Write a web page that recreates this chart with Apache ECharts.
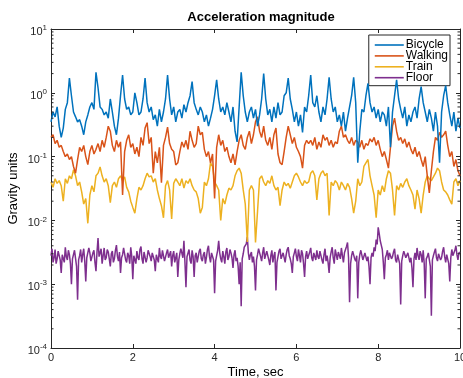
<!DOCTYPE html>
<html>
<head>
<meta charset="utf-8">
<script src="https://cdn.jsdelivr.net/npm/echarts@6/dist/echarts.min.js"></script>
<style>
  html, body { margin: 0; padding: 0; background: #fff; }
  #chart { width: 463px; height: 378px; }
</style>
</head>
<body>
<div id="chart"></div>
<script>
// sample spacing, seconds
const dt = 0.05;
const dtFloor = 0.025;
const seriesNames = ["Bicycle", "Walking", "Train", "Floor"];
const xTicks = [0, 2, 4, 6, 8, 10];
const yExponents = [-4, -3, -2, -1, 0, 1];

const bicycle = [
  0.35, 0.5, 0.42, 0.6, 0.3, 0.2, 0.28, 0.55, 0.7, 1.7,
  0.9, 0.5, 0.42, 0.35, 0.38, 0.3, 0.22, 0.35, 0.45, 0.6, 0.7, 0.55,
  2.1, 1.2, 0.6, 0.55, 0.45, 0.5, 0.4, 0.8, 0.5, 0.3, 0.22, 0.4, 0.9,
  1.9, 0.8, 0.55, 0.6, 0.45, 0.5, 1.0, 0.7, 0.45, 0.5, 0.8,
  1.7, 0.7, 0.5, 0.6, 0.38, 0.45, 0.3, 0.55, 0.35, 0.5, 0.8,
  1.9, 0.8, 0.45, 0.6, 0.35, 0.5, 0.55, 0.4, 0.65, 0.5, 0.7, 0.9,
  1.5, 0.7, 0.55, 0.45, 0.6, 0.5, 0.35, 0.45, 0.3, 0.4, 0.55, 0.9,
  1.6, 0.8, 0.5, 0.6, 0.45, 0.7, 0.5, 0.35, 0.6, 0.25, 0.17, 0.6,
  2.1, 0.9, 0.5, 0.35, 0.5, 0.6, 0.4, 0.55, 0.3, 0.45, 0.8,
  2.0, 0.8, 0.45, 0.55, 0.35, 0.6, 0.4, 0.7, 0.45, 0.5, 0.9, 1.0,
  1.7, 0.8, 0.55, 0.35, 0.5, 0.3, 0.45, 0.24, 0.6, 0.5, 0.9,
  1.9, 0.7, 0.6, 0.9, 0.5, 0.35, 0.6, 0.45, 0.8,
  1.75, 0.8, 0.5, 0.6, 0.35, 0.45, 0.3, 0.5, 0.25, 0.4, 0.6, 0.9,
  1.75, 0.7, 0.08, 0.25, 0.55, 0.5, 0.9,
  1.4, 0.7, 0.5, 0.6, 0.4, 0.55, 0.35, 0.5, 0.45, 0.3, 0.6, 0.14, 0.5, 0.9,
  1.6, 0.8, 0.55, 0.4, 0.6, 0.3, 0.45, 0.35, 0.5, 0.6, 0.4, 0.8,
  1.25, 0.7, 0.5, 0.35, 0.55, 0.4, 0.25, 0.5, 0.3, 0.08, 0.5, 0.9,
  1.3, 0.7, 0.45, 0.3, 0.5, 0.25, 0.4, 0.28
];

const walking = [
  0.2, 0.22, 0.16, 0.18, 0.14, 0.15, 0.12, 0.1, 0.11, 0.09, 0.1,
  0.07, 0.055, 0.09, 0.14, 0.12, 0.15,
  0.1, 0.075, 0.12, 0.15, 0.11, 0.13,
  0.16, 0.12, 0.18, 0.14, 0.2, 0.3, 0.25, 0.15,
  0.12, 0.18, 0.14, 0.17, 0.025, 0.12, 0.18, 0.22, 0.14, 0.16,
  0.11, 0.14, 0.1, 0.2, 0.15, 0.28, 0.34, 0.16, 0.2, 0.055,
  0.12, 0.08, 0.14, 0.039, 0.15, 0.2,
  0.29, 0.16, 0.13, 0.12, 0.074,
  0.08, 0.12, 0.17, 0.14, 0.18, 0.13, 0.25, 0.18, 0.14,
  0.16, 0.3, 0.22, 0.24, 0.13, 0.1, 0.12, 0.08, 0.11,
  0.022,
  0.14, 0.22, 0.15, 0.18, 0.12, 0.14, 0.1, 0.08, 0.11, 0.074,
  0.12, 0.18, 0.22, 0.15, 0.13, 0.2, 0.25, 0.16, 0.22, 0.35,
  0.42, 0.25, 0.2, 0.3, 0.18, 0.15, 0.2, 0.13, 0.22, 0.28,
  0.11, 0.08, 0.075, 0.12, 0.2,
  0.3, 0.22, 0.16, 0.2, 0.14,
  0.12, 0.1, 0.066, 0.15, 0.18,
  0.16, 0.18, 0.15, 0.2, 0.13,
  0.17, 0.14, 0.22, 0.18, 0.2,
  0.15, 0.18, 0.14, 0.17, 0.16,
  0.25, 0.3, 0.2, 0.22, 0.18,
  0.16, 0.2, 0.15, 0.18, 0.17,
  0.14, 0.18, 0.13, 0.16, 0.15,
  0.19, 0.17, 0.2, 0.15, 0.18,
  0.13, 0.1, 0.12, 0.09, 0.066, 0.14,
  0.3, 0.4, 0.25, 0.18,
  0.2, 0.16, 0.19, 0.14, 0.17, 0.13,
  0.11, 0.14, 0.1, 0.12, 0.09,
  0.07, 0.1, 0.05, 0.027, 0.06,
  0.12, 0.2, 0.18, 0.24, 0.2, 0.22,
  0.25, 0.15, 0.1, 0.12, 0.07, 0.09, 0.06, 0.05
];

const train = [
  0.04, 0.033, 0.045, 0.038, 0.042, 0.035, 0.02, 0.045, 0.038, 0.05, 0.045,
  0.062, 0.05, 0.035, 0.04, 0.028, 0.018, 0.022, 0.009, 0.025, 0.035, 0.028,
  0.05, 0.055, 0.069, 0.05, 0.04, 0.045, 0.035, 0.019, 0.035, 0.04, 0.033,
  0.045, 0.05, 0.042, 0.048, 0.033, 0.028, 0.02, 0.016, 0.013,
  0.022, 0.033, 0.03, 0.035, 0.045, 0.055, 0.048, 0.05,
  0.04, 0.045, 0.03, 0.022, 0.017, 0.011, 0.035, 0.042, 0.03, 0.0105,
  0.038, 0.045, 0.04, 0.035, 0.045, 0.032, 0.042, 0.038, 0.045, 0.035,
  0.03, 0.028, 0.022, 0.013, 0.016, 0.04, 0.035, 0.045, 0.08, 0.07,
  0.04, 0.035, 0.03, 0.01, 0.022, 0.018, 0.025, 0.032, 0.03, 0.035,
  0.05, 0.06, 0.066, 0.055, 0.03, 0.018, 0.0046, 0.03, 0.035, 0.03,
  0.0045, 0.014, 0.045, 0.05, 0.04, 0.035, 0.042, 0.038, 0.05, 0.035,
  0.03, 0.033, 0.017, 0.03, 0.04, 0.035, 0.038, 0.032, 0.04, 0.05,
  0.055, 0.048, 0.04, 0.035, 0.042, 0.038, 0.04, 0.055, 0.06, 0.05,
  0.021, 0.045, 0.055, 0.06, 0.05, 0.055, 0.012, 0.04, 0.035, 0.042,
  0.038, 0.03, 0.04, 0.035, 0.03, 0.038, 0.033, 0.022, 0.013, 0.02,
  0.045, 0.035, 0.04, 0.07, 0.08, 0.09, 0.05, 0.035, 0.025, 0.011,
  0.03, 0.025, 0.035, 0.028, 0.045, 0.06, 0.055, 0.03, 0.012, 0.035,
  0.03, 0.038, 0.033, 0.04, 0.045, 0.035, 0.03, 0.025, 0.015, 0.03,
  0.022, 0.013, 0.025, 0.04, 0.05, 0.045, 0.042, 0.048, 0.055, 0.066,
  0.06, 0.04, 0.03, 0.028, 0.025, 0.021, 0.018, 0.04, 0.045, 0.035,
  0.042
];

const floor = [
  0.0028, 0.0036, 0.0022, 0.0026, 0.0035, 0.0021, 0.0025, 0.0033, 0.0031, 0.0024, 0.0015, 0.0029, 0.0027, 0.0022, 0.0038, 0.0027, 0.0024, 0.0034, 0.0029, 0.0021,
  0.001, 0.0025, 0.0026, 0.0034, 0.0033, 0.0019, 0.00057, 0.0024, 0.0028, 0.0035, 0.0022, 0.0029, 0.0036, 0.0023, 0.0011, 0.0026, 0.0027, 0.0037, 0.0031, 0.0023,
  0.0024, 0.0031, 0.0034, 0.0022, 0.0016, 0.0032, 0.0053, 0.0027, 0.0029, 0.0036, 0.0021, 0.0028, 0.0037, 0.0024, 0.0026, 0.0035, 0.0032, 0.0025, 0.0019, 0.003,
  0.0033, 0.0022, 0.0025, 0.0034, 0.0041, 0.0027, 0.0023, 0.0032, 0.0015, 0.0026, 0.0029, 0.0037, 0.0035, 0.0024, 0.0022, 0.0031, 0.0028, 0.0021, 0.0038, 0.0027,
  0.0012, 0.0028, 0.0027, 0.0021, 0.0033, 0.0026, 0.0024, 0.0035, 0.0039, 0.0025, 0.0021, 0.0032, 0.003, 0.0022, 0.0026, 0.0034, 0.0036, 0.0027, 0.0023, 0.0031,
  0.0031, 0.0024, 0.0016, 0.0029, 0.0028, 0.0022, 0.0037, 0.0027, 0.0025, 0.0034, 0.0032, 0.0023, 0.0022, 0.0031, 0.0035, 0.0026, 0.0027, 0.0033, 0.0019, 0.0028,
  0.0033, 0.0022, 0.0026, 0.0031, 0.0013, 0.0024, 0.003, 0.0036, 0.0038, 0.0026, 0.0048, 0.0022, 0.0009, 0.0027, 0.0029, 0.0035, 0.0024, 0.0021, 0.0034, 0.0027,
  0.0013, 0.0028, 0.0031, 0.0022, 0.0027, 0.0033, 0.0036, 0.0025, 0.0023, 0.0029, 0.0032, 0.0021, 0.0026, 0.0035, 0.004, 0.0027, 0.0022, 0.0031, 0.003, 0.0024,
  0.00072, 0.0023, 0.0028, 0.0034, 0.0048, 0.0031, 0.0025, 0.0022, 0.0033, 0.0027, 0.0021, 0.0032, 0.0037, 0.0024, 0.0027, 0.0035, 0.0031, 0.0026, 0.0018, 0.0029,
  0.0034, 0.0023, 0.0026, 0.0019, 0.001, 0.0022, 0.00045, 0.0025, 0.003, 0.0038, 0.0036, 0.0043, 0.0055, 0.0031, 0.0024, 0.0029, 0.0032, 0.0022, 0.0027, 0.0019,
  0.0008, 0.0024, 0.0029, 0.0036, 0.0035, 0.0027, 0.0023, 0.0031, 0.0038, 0.0025, 0.0026, 0.0033, 0.0031, 0.0024, 0.002, 0.0028, 0.0034, 0.0022, 0.0028, 0.0032,
  0.0008, 0.0022, 0.0027, 0.0033, 0.0036, 0.0025, 0.0024, 0.0031, 0.0033, 0.0022, 0.0029, 0.0035, 0.0038, 0.0028, 0.0025, 0.0021, 0.0015, 0.0027, 0.0031, 0.0036,
  0.0027, 0.0023, 0.0035, 0.0028, 0.0022, 0.0034, 0.003, 0.0021, 0.0013, 0.0027, 0.0033, 0.0025, 0.0026, 0.0032, 0.0037, 0.0026, 0.0023, 0.0031, 0.0029, 0.0024,
  0.0034, 0.0027, 0.0025, 0.0033, 0.0031, 0.0024, 0.0021, 0.0029, 0.0036, 0.0023, 0.0028, 0.0022, 0.0015, 0.0026, 0.0032, 0.0038, 0.0026, 0.0021, 0.0035, 0.0029,
  0.0024, 0.0032, 0.003, 0.0025, 0.0037, 0.0028, 0.0022, 0.0031, 0.0033, 0.0039, 0.0045, 0.0026, 0.00052, 0.0021, 0.0028, 0.0033, 0.0034, 0.0025, 0.0023, 0.0028,
  0.0006, 0.0022, 0.0029, 0.0034, 0.0036, 0.0024, 0.0025, 0.0031, 0.0032, 0.0023, 0.0027, 0.0019, 0.001, 0.0026, 0.0031, 0.0027, 0.0038, 0.0033, 0.005, 0.0042,
  0.0078, 0.0062, 0.0048, 0.0041, 0.0035, 0.0022, 0.0012, 0.0026, 0.0029, 0.0034, 0.0024, 0.0031, 0.0033, 0.0025, 0.0027, 0.0032, 0.0036, 0.0024, 0.0022, 0.0029,
  0.003, 0.0021, 0.00048, 0.0023, 0.0028, 0.0033, 0.0035, 0.0026, 0.0025, 0.0031, 0.0032, 0.0022, 0.0026, 0.0018, 0.0009, 0.0025, 0.0031, 0.0024, 0.0037, 0.0028,
  0.0024, 0.0033, 0.0029, 0.0022, 0.0034, 0.0021, 0.0006, 0.0025, 0.0027, 0.0031, 0.0033, 0.0019, 0.00032, 0.0024, 0.0028, 0.0032, 0.0036, 0.0026, 0.0023, 0.003,
  0.0031, 0.0024, 0.0026, 0.0033, 0.0038, 0.0027, 0.0022, 0.0029, 0.003, 0.0021, 0.0011, 0.0026, 0.0035, 0.0028, 0.0027, 0.0034, 0.004, 0.0029, 0.0024, 0.0031,
  0.0032
];

const colors = ["#0072BD", "#D95319", "#EDB120", "#7E2F8E"];
const axisColor = "#262626";
const font = "Liberation Sans, Arial, Helvetica, sans-serif";

// minor tick positions on the log axis: 2..9 x 10^k
const minorTicks = [];
for (let e = -4; e < 1; e++) {
  for (let m = 2; m <= 9; m++) minorTicks.push(m * Math.pow(10, e));
}

const toPoints = (arr, step) => arr.map((v, i) => [+(i * step).toFixed(3), v]);

const chart = echarts.init(document.getElementById("chart"));

const axisCommon = {
  axisLine: { show: true, onZero: false, lineStyle: { color: axisColor, width: 1 } },
  axisTick: { show: true, inside: true, length: 4, lineStyle: { color: axisColor } },
  splitLine: { show: false },
};

const lineSeries = (name, arr, step, color, z) => ({
  name, type: "line", data: toPoints(arr, step), showSymbol: false, symbol: "none",
  lineStyle: { width: 1.5, color }, itemStyle: { color }, z,
});

chart.setOption({
  animation: false,
  backgroundColor: "#fff",
  textStyle: { fontFamily: font },
  title: {
    text: "Acceleration magnitude",
    left: 256,
    top: 6,
    textAlign: "center",
    textStyle: { fontSize: 13, fontWeight: "bold", color: "#000", fontFamily: font },
  },
  grid: { left: 51, right: 3, top: 29, bottom: 30, containLabel: false, outerBoundsMode: "none" },
  legend: {
    data: seriesNames,
    orient: "vertical",
    right: 13,
    top: 35,
    icon: "rect",
    itemWidth: 29,
    itemHeight: 1.6,
    itemGap: -1.1,
    padding: [4, 2, 2, 6],
    backgroundColor: "#fff",
    borderColor: axisColor,
    borderWidth: 1,
    borderRadius: 0,
    textStyle: { fontSize: 12, lineHeight: 10, color: "#000", fontFamily: font, padding: [0, 0, 0, -3] },
  },
  xAxis: [
    Object.assign({}, axisCommon, {
      type: "value",
      min: 0,
      max: 10,
      interval: 2,
      name: "Time, sec",
      nameLocation: "middle",
      nameGap: 18,
      nameMoveOverlap: false,
      nameTextStyle: { fontSize: 13, color: "#000", fontFamily: font },
      axisLabel: {
        color: axisColor, fontSize: 11, margin: 4, fontFamily: font,
        formatter: (v) => (xTicks.includes(v) ? String(v) : ""),
      },
    }),
    Object.assign({}, axisCommon, {
      type: "value",
      position: "top",
      min: 0,
      max: 10,
      interval: 2,
      axisLabel: { show: false },
    }),
  ],
  yAxis: [
    Object.assign({}, axisCommon, {
      type: "log",
      logBase: 10,
      min: 1e-4,
      max: 10,
      name: "Gravity units",
      nameLocation: "middle",
      nameGap: 31,
      nameMoveOverlap: false,
      nameTextStyle: { fontSize: 13, color: "#000", fontFamily: font },
      axisLabel: {
        color: axisColor, margin: 4, fontFamily: font,
        formatter: (v) => {
          const e = Math.round(Math.log10(v));
          return yExponents.includes(e) ? "{b|10}{e|" + e + "}" : "";
        },
        rich: {
          b: { fontSize: 11, color: axisColor, fontFamily: font, padding: [6, 0, 0, 0] },
          e: { fontSize: 8, color: axisColor, fontFamily: font, padding: [0, 0, 2, 0] },
        },
      },
    }),
    Object.assign({}, axisCommon, {
      type: "log",
      logBase: 10,
      min: 1e-4,
      max: 10,
      position: "right",
      axisLabel: { show: false },
    }),
  ],
  series: [
    lineSeries(seriesNames[0], bicycle, dt, colors[0], 5),
    lineSeries(seriesNames[1], walking, dt, colors[1], 4),
    lineSeries(seriesNames[2], train, dt, colors[2], 3),
    lineSeries(seriesNames[3], floor, dtFloor, colors[3], 2),
    {
      // minor ticks on left and right edges of the log axis
      type: "custom",
      silent: true,
      clip: false,
      z: 6,
      data: minorTicks.map((v) => [0, v]),
      renderItem: (params, api) => {
        const left = api.coord([0, api.value(1)]);
        const right = api.coord([10, api.value(1)]);
        const style = { stroke: axisColor, lineWidth: 1 };
        return {
          type: "group",
          children: [
            { type: "line", shape: { x1: left[0], y1: left[1], x2: left[0] + 2.5, y2: left[1] }, style },
            { type: "line", shape: { x1: right[0], y1: right[1], x2: right[0] - 2.5, y2: right[1] }, style },
          ],
        };
      },
    },
  ],
});
</script>
</body>
</html>
